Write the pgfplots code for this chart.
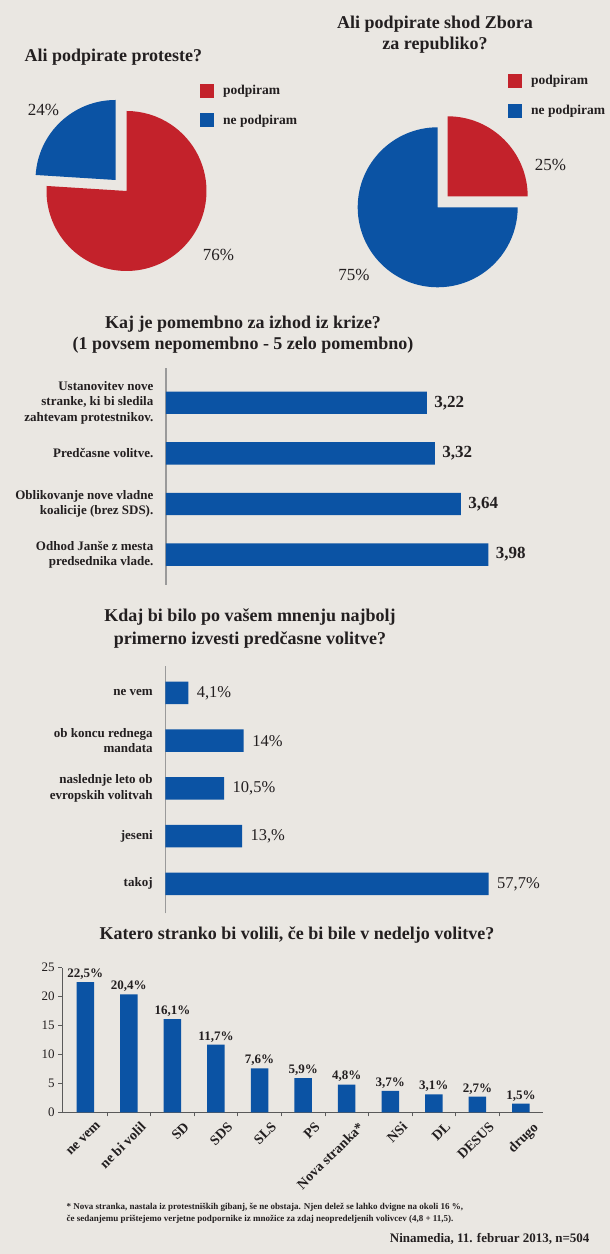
\documentclass[border=0pt]{standalone}
\usepackage{pgfplots}
\pgfplotsset{compat=1.18}
\usepackage{pgfplotstable}
\usepackage{fontspec}
\setmainfont{Liberation Serif}
\definecolor{bg}{HTML}{EAE7E2}
\definecolor{pred}{HTML}{C3222B}
\definecolor{pblue}{HTML}{0B53A4}
\definecolor{txt}{HTML}{231F20}
\definecolor{axgrey}{HTML}{9A9A9A}
\definecolor{axdark}{HTML}{5A5A5A}

% pie data (percent)
\def\protestYes{76}\def\protestNo{24}
\def\shodYes{25}\def\shodNo{75}

\pgfplotstableread{
idx value label
3 3.22 {3,22}
2 3.32 {3,32}
1 3.64 {3,64}
0 3.98 {3,98}
}\krize

\pgfplotstableread{
idx value label
4 4.1 {4,1\%}
3 14 {14\%}
2 10.5 {10,5\%}
1 13.7 {13,\%}
0 57.7 {57,7\%}
}\kdaj

\pgfplotstableread{
idx value
0 22.5
1 20.4
2 16.1
3 11.7
4 7.6
5 5.9
6 4.8
7 3.7
8 3.1
9 2.7
10 1.5
}\stranke

\newcommand\fs[2]{\fontsize{#1}{#2}\selectfont}

\begin{document}
\begin{tikzpicture}[color=txt]
\fill[bg] (0,0) rectangle (610pt,1254pt);
\useasboundingbox (0,0) rectangle (610pt,1254pt);

% ---------------- Pie 1 ----------------
\node[anchor=base west, font=\fs{18}{22}\bfseries] at (21pt,1192pt) {Ali podpirate proteste?};
\begin{axis}[at={(126.5pt,1063pt)}, anchor=center, width=160pt, height=160pt, scale only axis,
  xmin=-1, xmax=1, ymin=-1, ymax=1, hide axis, clip=false,
  legend image code/.code={\fill[#1,draw=none] (0pt,-7pt) rectangle (14pt,7pt);},
  legend style={at={(axis description cs:0.959,1.175)}, anchor=north west, draw=none, fill=none,
    inner sep=0pt, font=\fs{13.5}{15}\bfseries, row sep=15pt,
    /tikz/every odd column/.append style={column sep=7pt}},
  legend cell align=left]
\addlegendimage{fill=pred}\addlegendentry{podpiram}
\addlegendimage{fill=pblue}\addlegendentry{ne podpiram}
\pgfmathsetmacro\aA{90+3.6*\protestNo}
\fill[pred] (axis cs:0,0) -- (axis cs:{cos(\aA)},{sin(\aA)}) arc[start angle=\aA, end angle=450, radius=1] -- cycle;
\fill[pblue, shift={(-11pt,11pt)}] (axis cs:0,0) -- (axis cs:0,1) arc[start angle=90, end angle=\aA, radius=1] -- cycle;
\end{axis}
\node[font=\fs{17}{20}] at (43.5pt,1144pt) {\protestNo\%};
\node[font=\fs{17}{20}] at (218.5pt,999pt) {\protestYes\%};

% ---------------- Pie 2 ----------------
\node[anchor=base, font=\fs{18}{22}\bfseries] at (435pt,1225.7pt) {Ali podpirate shod Zbora};
\node[anchor=base, font=\fs{18}{22}\bfseries] at (435pt,1204pt) {za republiko?};
\begin{axis}[at={(437.7pt,1046.7pt)}, anchor=center, width=160pt, height=160pt, scale only axis,
  xmin=-1, xmax=1, ymin=-1, ymax=1, hide axis, clip=false,
  legend image code/.code={\fill[#1,draw=none] (0pt,-7pt) rectangle (14pt,7pt);},
  legend style={at={(axis description cs:0.939,1.339)}, anchor=north west, draw=none, fill=none,
    inner sep=0pt, font=\fs{13.5}{15}\bfseries, row sep=15pt,
    /tikz/every odd column/.append style={column sep=7pt}},
  legend cell align=left]
\addlegendimage{fill=pred}\addlegendentry{podpiram}
\addlegendimage{fill=pblue}\addlegendentry{ne podpiram}
\pgfmathsetmacro\bA{90+3.6*\shodNo}
\fill[pblue] (axis cs:0,0) -- (axis cs:0,1) arc[start angle=90, end angle=\bA, radius=1] -- cycle;
\fill[pred, shift={(10pt,11pt)}] (axis cs:0,0) -- (axis cs:{cos(\bA)},{sin(\bA)}) arc[start angle=\bA, end angle=450, radius=1] -- cycle;
\end{axis}
\node[font=\fs{17}{20}] at (550.5pt,1089pt) {\shodYes\%};
\node[font=\fs{17}{20}] at (354pt,979pt) {\shodNo\%};

% ---------------- Bar chart 1 ----------------
\node[anchor=base, font=\fs{18}{22}\bfseries] at (243pt,925.7pt) {Kaj je pomembno za izhod iz krize?};
\node[anchor=base, font=\fs{18}{22}\bfseries] at (243pt,904pt) {(1 povsem nepomembno - 5 zelo pomembno)};
\begin{axis}[at={(166pt,669pt)}, anchor=south west, scale only axis, width=405pt, height=216.7pt,
  xbar, bar width=22.3pt, xmin=0, xmax=5, ymin=-0.6, ymax=3.68,
  axis x line=none, axis y line=left, y axis line style={axgrey, line width=1.3pt, -},
  ytick={0,1,2,3}, ytick style={draw=none},
  yticklabels={{Odhod Janše z mesta\\predsednika vlade.},{Oblikovanje nove vladne\\koalicije (brez SDS).},{Predčasne volitve.},{Ustanovitev nove\\stranke, ki bi sledila\\zahtevam protestnikov.}},
  yticklabel style={align=right, font=\fs{13}{15.5}\bfseries, text=txt, xshift=-7pt},
  nodes near coords, point meta=explicit symbolic,
  every node near coord/.append style={anchor=west, font=\fs{17}{18}\bfseries, text=txt, xshift=4pt},
  clip=false]
\addplot[fill=pblue, draw=none] table[x=value, y=idx, meta=label] {\krize};
\end{axis}

% ---------------- Bar chart 2 ----------------
\node[anchor=base, font=\fs{18}{22}\bfseries] at (250pt,632.3pt) {Kdaj bi bilo po vašem mnenju najbolj};
\node[anchor=base, font=\fs{18}{22}\bfseries] at (250pt,609pt) {primerno izvesti predčasne volitve?};
\begin{axis}[at={(165.3pt,340.7pt)}, anchor=south west, scale only axis, width=336.2pt, height=247.3pt,
  xbar, bar width=22.5pt, xmin=0, xmax=60, ymin=-0.618, ymax=4.566,
  axis x line=none, axis y line=left, y axis line style={axgrey, line width=1.3pt, -},
  ytick={0,1,2,3,4}, ytick style={draw=none},
  yticklabels={{takoj},{jeseni},{naslednje leto ob\\evropskih volitvah},{ob koncu rednega\\mandata},{ne vem}},
  yticklabel style={align=right, font=\fs{13}{15.5}\bfseries, text=txt, xshift=-7pt},
  nodes near coords, point meta=explicit symbolic,
  every node near coord/.append style={anchor=west, font=\fs{16.5}{18}, text=txt, xshift=5pt},
  clip=false]
\addplot[fill=pblue, draw=none] table[x=value, y=idx, meta=label] {\kdaj};
\end{axis}

% ---------------- Column chart ----------------
\node[anchor=base, font=\fs{18}{22}\bfseries] at (297pt,314pt) {Katero stranko bi volili, če bi bile v nedeljo volitve?};
\begin{axis}[at={(62.2pt,141.7pt)}, anchor=south west, scale only axis, width=481pt, height=144.6pt,
  ybar, bar width=17.5pt, xmin=-0.53, xmax=10.51, ymin=0, ymax=25,
  axis x line=bottom, axis y line=left,
  x axis line style={axdark, line width=0.9pt, -}, y axis line style={axdark, line width=0.9pt, -},
  ytick={0,5,10,15,20,25}, tick align=outside, major tick length=4pt, minor tick length=4pt,
  ytick style={axdark, line width=0.8pt},
  xtick={0.25,1.25,...,10.25}, minor xtick={0.5,1.5,...,9.5},
  major x tick style={draw=none}, minor x tick style={axdark, line width=0.8pt},
  xticklabels={ne vem,ne bi volil,SD,SDS,SLS,PS,Nova stranka*,NSi,DL,DESUS,drugo},
  xticklabel style={rotate=45, anchor=north east, font=\fs{14}{15}\bfseries, text=txt},
  yticklabel style={font=\fs{13}{15}, text=txt},
  /pgf/number format/assume math mode=true,
  nodes near coords={\pgfmathprintnumber[use comma,fixed,precision=1]{\pgfplotspointmeta}\%},
  every node near coord/.append style={anchor=south, font=\fs{13}{14}\bfseries, text=txt, yshift=-1pt},
  clip=false]
\addplot[fill=pblue, draw=none] table[x=idx, y=value] {\stranke};
\end{axis}

% ---------------- Footnotes ----------------
\node[anchor=base west, font=\fs{9}{10}\bfseries] at (63pt,44pt) {* Nova stranka, nastala iz protestniških gibanj, še ne obstaja. Njen delež se lahko dvigne na okoli 16 \%,};
\node[anchor=base west, font=\fs{9}{10}\bfseries] at (63pt,32pt) {če sedanjemu prištejemo verjetne podpornike iz množice za zdaj neopredeljenih volivcev (4,8 + 11,5).};
\node[anchor=base east, font=\fs{13}{15}\bfseries] at (593pt,12pt) {Ninamedia, 11. februar 2013, n=504};
\end{tikzpicture}
\end{document}
